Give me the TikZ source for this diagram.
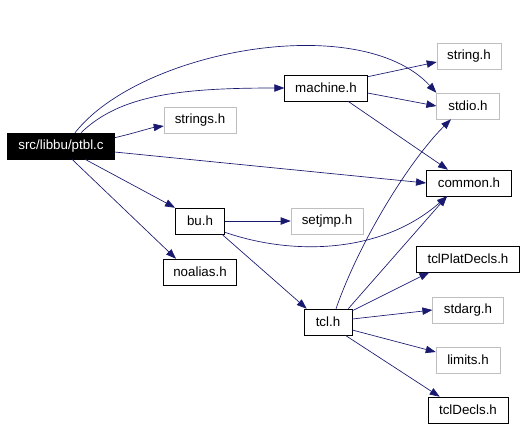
\documentclass[tikz,border=0pt]{standalone}
\usepackage{fontspec}
\setmainfont{Liberation Sans}
\usepackage{tikz}
\usetikzlibrary{arrows.meta, shapes, positioning, calc}
\definecolor{DepBlau}{RGB}{25,25,112}
\definecolor{DepGrau}{RGB}{191,191,191}
\tikzset{
  hdr/.style={shape=rectangle, draw=black, fill=white, inner sep=0pt, minimum height=19.5pt, font=\fontsize{10}{12}\selectfont},
  extern/.style={hdr, draw=DepGrau},
  root/.style={hdr, fill=black, text=white},
  dep/.style={DepBlau, line width=0.5pt, -{Triangle[length=7.5pt,width=5.5pt]}}
}

\begin{document}
\begin{tikzpicture}[x=0.75pt, y=-0.75pt]
    \useasboundingbox (0,0) rectangle (525,429);
    \node[root, minimum width=80pt]   (P) at ( 61,146) {src/libbu/ptbl.c};
    \node[extern, minimum width=54pt] (SS) at (200,120) {strings.h};
    \node[hdr, minimum width=37pt]    (BU) at (200,221) {bu.h};
    \node[hdr, minimum width=55pt]    (NA) at (200,272) {noalias.h};
    \node[hdr, minimum width=62pt]    (MA) at (326, 88) {machine.h};
    \node[extern, minimum width=48pt] (ST) at (469, 56) {string.h};
    \node[extern, minimum width=47pt] (IO) at (468,106) {stdio.h};
    \node[hdr, minimum width=64pt]    (CO) at (469,183) {common.h};
    \node[extern, minimum width=54pt] (SJ) at (327,221) {setjmp.h};
    \node[hdr, minimum width=77pt]    (PD) at (468,259) {tclPlatDecls.h};
    \node[hdr, minimum width=36pt]    (TC) at (328,322) {tcl.h};
    \node[extern, minimum width=53pt] (SA) at (468,310) {stdarg.h};
    \node[extern, minimum width=48pt] (LI) at (468,360) {limits.h};
    \node[hdr, minimum width=60pt]    (TD) at (468,410) {tclDecls.h};
    % ptbl.c
    \draw[dep] ($(P.north east)+(0,5)$) .. controls (135,133) and (150,128) .. ($(SS.west)+(0,6)$);
    \draw[dep] ($(P.north)+(20,0)$) .. controls (120,95) and (180,88) .. (MA.west);
    \draw[dep] ($(P.north)+(14,0)$) .. controls (140,50) and (360,10) .. (IO.north west);
    \path[dep] ($(P.east)+(0,6)$) edge (CO.west);
    \path[dep] ($(P.south)+(24,0)$) edge (BU.north west);
    \path[dep] ($(P.south)+(11,0)$) edge ($(NA.north)+(-24,0)$);
    % machine.h
    \path[dep] ($(MA.north east)+(0,2)$) edge ($(ST.west)+(0,6)$);
    \path[dep] ($(MA.east)+(0,5)$) edge (IO.west);
    \path[dep] ($(MA.south)+(22,0)$) edge ($(CO.north)+(-21,0)$);
    % bu.h
    \path[dep] (BU.east) edge (SJ.west);
    \draw[dep] ($(BU.south east)+(0,-2)$) .. controls (290,255) and (380,255) .. ($(CO.south)+(-22,0)$);
    \path[dep] ($(BU.south east)+(-3,0)$) edge ($(TC.north west)+(3,0)$);
    % tcl.h
    \draw[dep] ($(TC.north)+(8,0)$) .. controls (360,240) and (410,160) .. ($(IO.south)+(-17,0)$);
    \path[dep] ($(TC.north east)+(-4,0)$) edge ($(CO.south)+(-22,0)$);
    \path[dep] ($(TC.north east)+(0,2)$) edge ($(PD.south west)+(13,0)$);
    \path[dep] ($(TC.east)+(0,-3)$) edge (SA.west);
    \path[dep] ($(TC.east)+(0,8)$) edge ($(LI.west)+(0,-8)$);
    \path[dep] ($(TC.south east)+(-7,0)$) edge ($(TD.north west)+(12,0)$);
\end{tikzpicture}
\end{document}
